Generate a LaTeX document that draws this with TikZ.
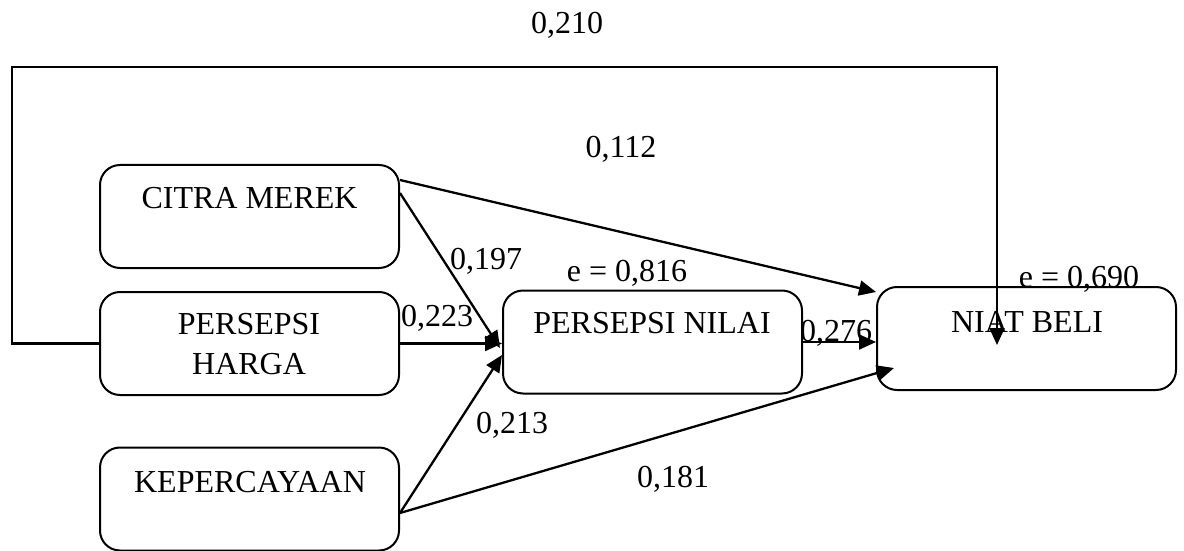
\documentclass[tikz,border=0pt]{standalone}
\usepackage{fontspec}
\setmainfont{Liberation Serif}
\usetikzlibrary{arrows.meta,calc,positioning}

\tikzset{
  box/.style={draw, line width=1pt, rounded corners=10pt, minimum width=149.5pt, minimum height=51.5pt},
  txt/.style={font=\fontsize{16}{20}\selectfont, inner sep=0pt, align=center},
  koef/.style={txt, anchor=base}
}

\begin{document}
\begin{tikzpicture}[x=0.5pt, y=-0.5pt, >={Triangle[length=8.5pt,width=7.5pt]}, line width=1.15pt]

    \useasboundingbox (0,0) rectangle (1184,551);

    % kotak
    \node[box] (citra)  at (249.5,216.5) {};
    \node[box] (harga)  at (249.5,343.5) {};
    \node[box] (kepe)   at (249.5,499)   {};
    \node[box] (nilai)  at (652.5,342)   {};
    \node[box] (niat)   at (1026.5,338.5) {};

    \node[txt] (tcitra) at (249.5,198) {CITRA MEREK};
    \node[txt] (tharga) at (249,344)   {PERSEPSI\\HARGA};
    \node[txt] (tkepe)  at (250,482)   {KEPERCAYAAN};
    \node[txt] (tnilai) at (652,323)   {PERSEPSI NILAI};
    \node[txt] (tniat)  at (1027,322)  {NIAT BELI};

    % jalur
    \coordinate (top)     at (12,67);
    \coordinate (loopend) at (997,345);

    \draw[->] (harga.west) -| (top) -| (loopend);

    \path[->]   ($(citra.east)+(0,-36.5)$) edge ($(niat.west)+(0,-46.5)$)
                ($(citra.east)+(0,-23.5)$) edge ($(nilai.west)+(-2,6)$);
    \path[->]   (harga.east)               edge (harga.east -| nilai.west);
    \path[->]   ($(kepe.east)+(0,14)$)     edge ($(nilai.west)+(0,13)$)
                ($(kepe.east)+(0,14)$)     edge ($(niat.west)+(18,29.5)$);
    \path[->]   (nilai.east)               edge (nilai.east -| niat.west);

    % koefisien
    \node[koef] (l210) at (567,34)   {0,210};
    \node[koef] (l112) at (621,158)  {0,112};
    \node[koef] (l197) at (486,270)  {0,197};
    \node[koef] (l223) at (437,326)  {0,223};
    \node[koef] (e816) at (627,281)  {e = 0,816};
    \node[koef] (l276) at (836,341)  {0,276};
    \node[koef] (e690) at (1079,287) {e = 0,690};
    \node[koef] (l213) at (512,433)  {0,213};
    \node[koef] (l181) at (673,487)  {0,181};

\end{tikzpicture}
\end{document}
